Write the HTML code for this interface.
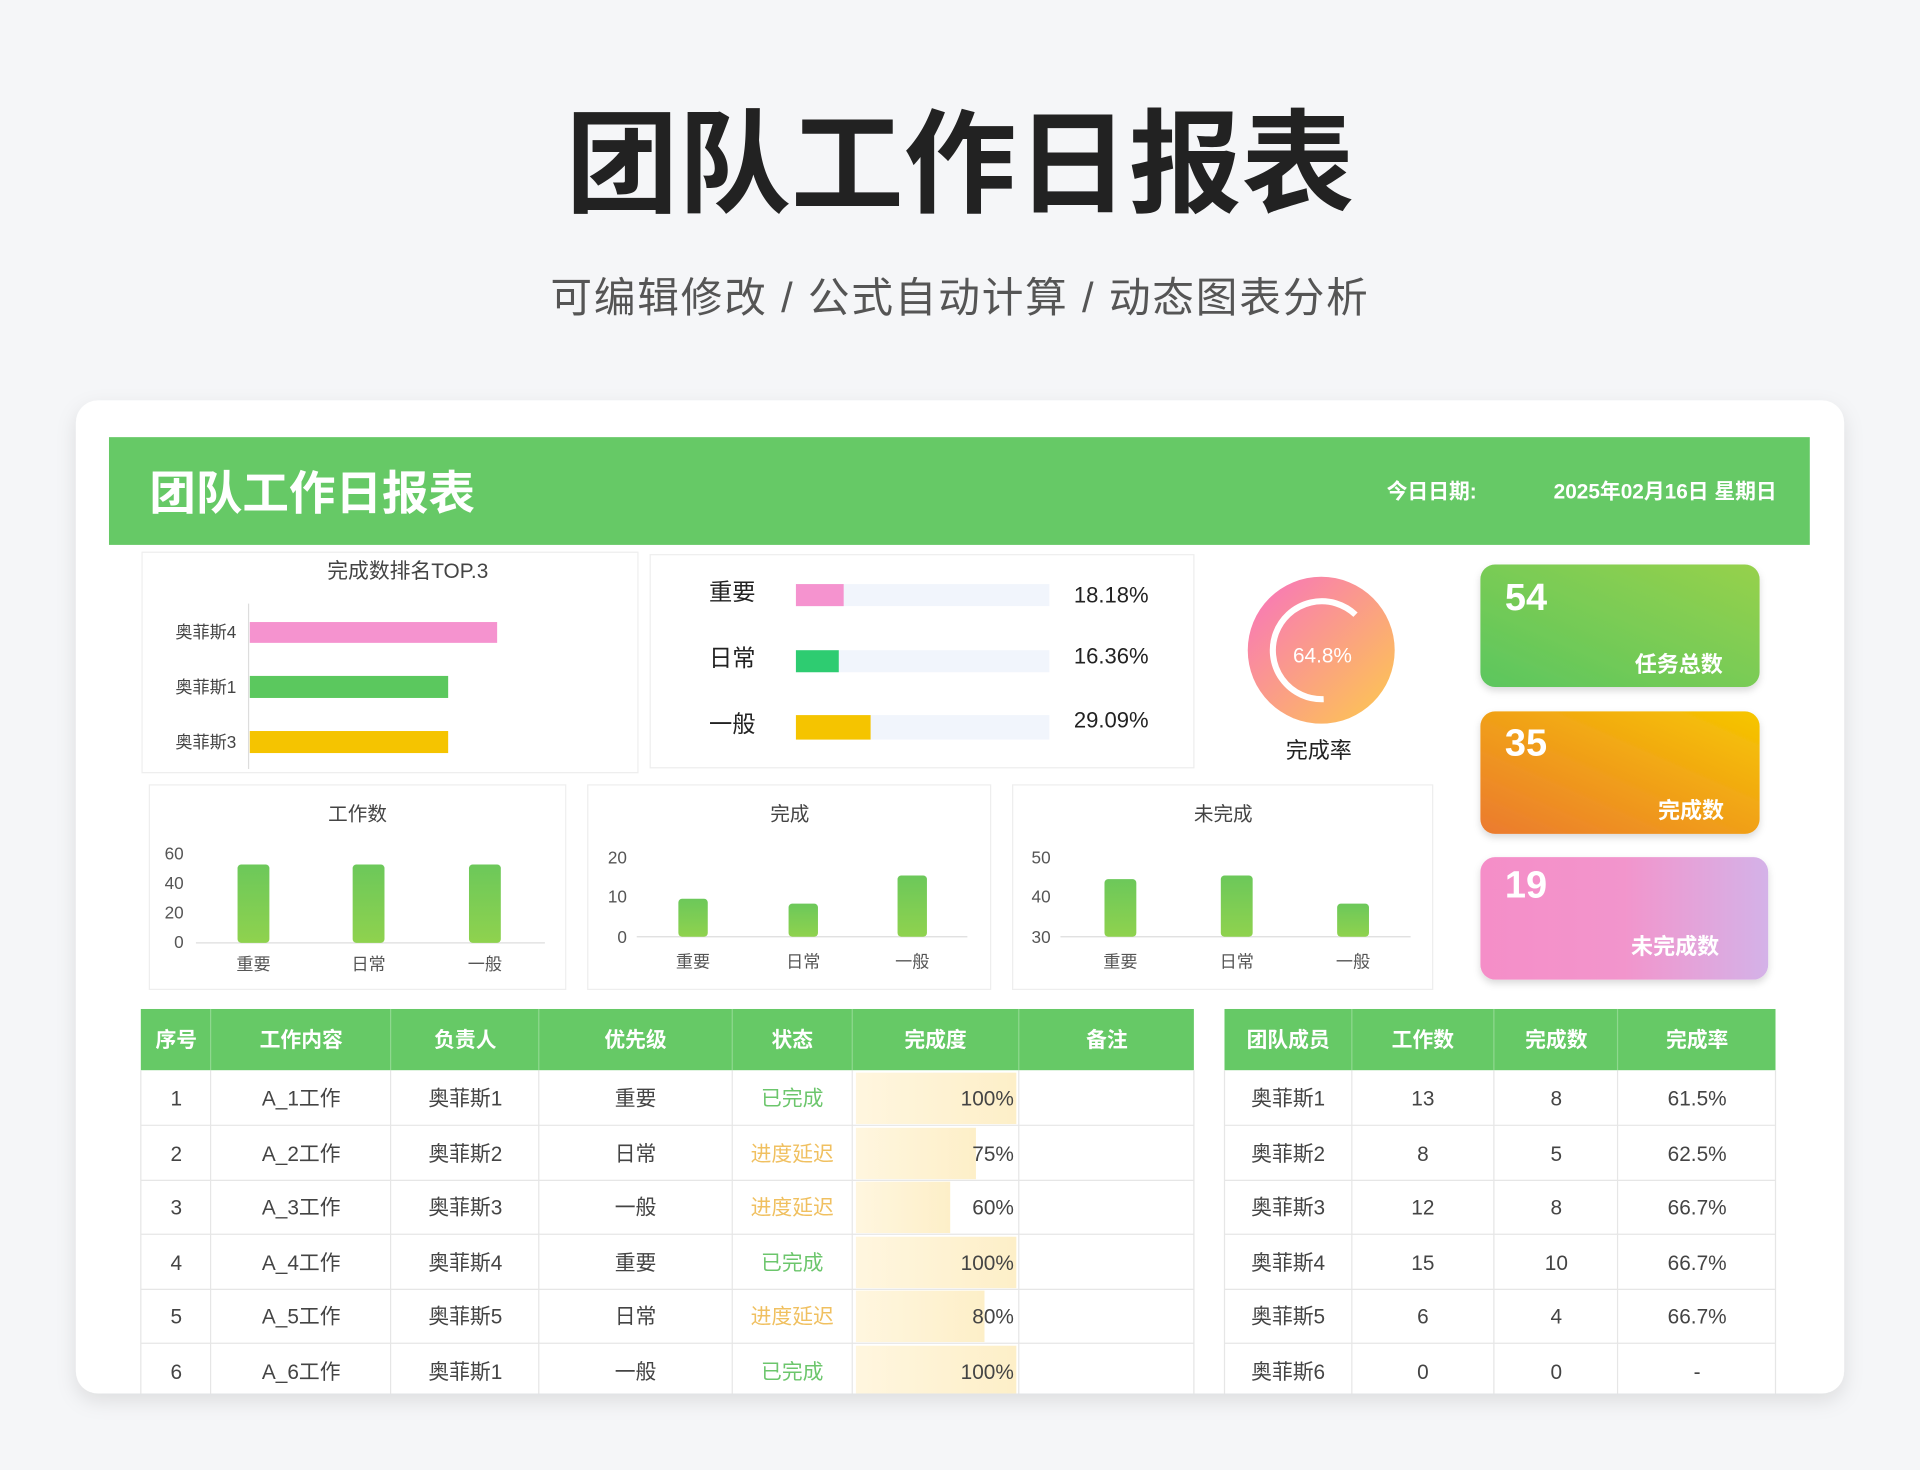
<!DOCTYPE html>
<html><head><meta charset="utf-8"><style>
html,body{margin:0;padding:0;background:#f5f6f8;}
svg{display:block;font-family:"Liberation Sans","Noto Sans CJK SC",sans-serif;}
</style></head><body>
<svg width="1920" height="1470" viewBox="0 0 1568 1200.5" xmlns="http://www.w3.org/2000/svg">
<defs>
<filter id="sh" x="-5%" y="-5%" width="110%" height="115%"><feDropShadow dx="0" dy="6" stdDeviation="8" flood-color="#000" flood-opacity="0.10"/></filter>
<filter id="sh2" x="-10%" y="-10%" width="120%" height="130%"><feDropShadow dx="0" dy="3" stdDeviation="3" flood-color="#000" flood-opacity="0.15"/></filter>
<linearGradient id="gk1" x1="0" y1="1" x2="1" y2="0"><stop offset="0" stop-color="#5cc65e"/><stop offset="1" stop-color="#96d14c"/></linearGradient>
<linearGradient id="gk2" x1="0" y1="1" x2="1" y2="0"><stop offset="0" stop-color="#eb7a30"/><stop offset="1" stop-color="#f6c600"/></linearGradient>
<linearGradient id="gk3" x1="0" y1="0" x2="1" y2="0"><stop offset="0" stop-color="#f58ec8"/><stop offset="0.5" stop-color="#f295cc"/><stop offset="1" stop-color="#d4b2e8"/></linearGradient>
<linearGradient id="gd" x1="0" y1="0" x2="1" y2="1"><stop offset="0" stop-color="#f872c0"/><stop offset="1" stop-color="#fdca4c"/></linearGradient>
<linearGradient id="gb" x1="0" y1="0" x2="0" y2="1"><stop offset="0" stop-color="#6cc85a"/><stop offset="1" stop-color="#8fd24e"/></linearGradient>
<linearGradient id="gp" x1="0" y1="0" x2="1" y2="0"><stop offset="0" stop-color="#fff6df"/><stop offset="1" stop-color="#fdefc8"/></linearGradient>
</defs>
<rect width="1568" height="1201" fill="#f5f6f8"/>
<text x="784" y="166" text-anchor="middle" font-size="92" font-weight="bold" fill="#222">团队工作日报表</text>
<text x="784" y="255" text-anchor="middle" font-size="34" fill="#555" letter-spacing="1.5">可编辑修改 /  公式自动计算  /  动态图表分析</text>

<rect x="62" y="327" width="1444" height="811" rx="18" fill="#fff" filter="url(#sh)"/>
<rect x="89" y="357" width="1389" height="88" fill="#66c966"/>
<text x="122" y="416" font-size="38" font-weight="bold" fill="#fff">团队工作日报表</text>
<text x="1206" y="407" text-anchor="end" font-size="17" font-weight="bold" fill="#fff">今日日期:</text>
<text x="1451" y="407" text-anchor="end" font-size="17" font-weight="bold" fill="#fff">2025年02月16日   星期日</text>

<rect x="116" y="451" width="405" height="180" fill="#fff" stroke="#eee"/>
<text x="333" y="472" text-anchor="middle" font-size="17" fill="#444">完成数排名TOP.3</text>
<line x1="203" y1="493" x2="203" y2="628" stroke="#ddd"/>
<rect x="204" y="508" width="202" height="17" fill="#f593cf"/>
<rect x="204" y="552" width="162" height="18" fill="#5bc85e"/>
<rect x="204" y="597" width="162" height="18" fill="#f5c400"/>
<g font-size="14" fill="#444" text-anchor="end"><text x="193" y="521">奥菲斯4</text><text x="193" y="566">奥菲斯1</text><text x="193" y="611">奥菲斯3</text></g>

<rect x="531" y="453" width="444" height="174" fill="#fff" stroke="#eee"/>
<g font-size="19" fill="#222"><text x="579" y="490">重要</text><text x="579" y="544">日常</text><text x="579" y="598">一般</text></g>
<rect x="650" y="477" width="207" height="18" fill="#f1f5fc"/><rect x="650" y="477" width="39" height="18" fill="#f593cf"/>
<rect x="650" y="531" width="207" height="18" fill="#f1f5fc"/><rect x="650" y="531" width="35" height="18" fill="#2ecc71"/>
<rect x="650" y="584" width="207" height="20" fill="#f1f5fc"/><rect x="650" y="584" width="61" height="20" fill="#f5c400"/>
<g font-size="18" fill="#222"><text x="877" y="492">18.18%</text><text x="877" y="542">16.36%</text><text x="877" y="594">29.09%</text></g>

<circle cx="1079" cy="531" r="60" fill="url(#gd)"/>
<path d="M1107 502 A40 40 0 1 0 1081 571" fill="none" stroke="#fff" stroke-width="5"/>
<text x="1080" y="541" text-anchor="middle" font-size="17" fill="#fff">64.8%</text>
<text x="1077" y="619" text-anchor="middle" font-size="18" fill="#222">完成率</text>

<rect x="1209" y="461" width="228" height="100" rx="12" fill="url(#gk1)" filter="url(#sh2)"/>
<text x="1229" y="498" font-size="31" font-weight="bold" fill="#fff">54</text>
<text x="1407" y="549" text-anchor="end" font-size="18" font-weight="bold" fill="#fff">任务总数</text>
<rect x="1209" y="581" width="228" height="100" rx="12" fill="url(#gk2)" filter="url(#sh2)"/>
<text x="1229" y="617" font-size="31" font-weight="bold" fill="#fff">35</text>
<text x="1408" y="668" text-anchor="end" font-size="18" font-weight="bold" fill="#fff">完成数</text>
<rect x="1209" y="700" width="235" height="100" rx="12" fill="url(#gk3)" filter="url(#sh2)"/>
<text x="1229" y="733" font-size="31" font-weight="bold" fill="#fff">19</text>
<text x="1404" y="779" text-anchor="end" font-size="18" font-weight="bold" fill="#fff">未完成数</text>

<g font-size="14" fill="#555">
<rect x="122" y="641" width="340" height="167" fill="#fff" stroke="#eee"/>
<text x="292" y="670" text-anchor="middle" font-size="16" fill="#444">工作数</text>
<text x="150" y="702" text-anchor="end">60</text><text x="150" y="726" text-anchor="end">40</text><text x="150" y="750" text-anchor="end">20</text><text x="150" y="774" text-anchor="end">0</text>
<line x1="160" y1="770" x2="445" y2="770" stroke="#ddd"/>
<rect x="194" y="706" width="26" height="64" fill="url(#gb)" rx="3"/><rect x="288" y="706" width="26" height="64" fill="url(#gb)" rx="3"/><rect x="383" y="706" width="26" height="64" fill="url(#gb)" rx="3"/>
<text x="207" y="792" text-anchor="middle">重要</text><text x="301" y="792" text-anchor="middle">日常</text><text x="396" y="792" text-anchor="middle">一般</text>

<rect x="480" y="641" width="329" height="167" fill="#fff" stroke="#eee"/>
<text x="645" y="670" text-anchor="middle" font-size="16" fill="#444">完成</text>
<text x="512" y="705" text-anchor="end">20</text><text x="512" y="737" text-anchor="end">10</text><text x="512" y="770" text-anchor="end">0</text>
<line x1="520" y1="765" x2="790" y2="765" stroke="#ddd"/>
<rect x="554" y="734" width="24" height="31" fill="url(#gb)" rx="3"/><rect x="644" y="738" width="24" height="27" fill="url(#gb)" rx="3"/><rect x="733" y="715" width="24" height="50" fill="url(#gb)" rx="3"/>
<text x="566" y="790" text-anchor="middle">重要</text><text x="656" y="790" text-anchor="middle">日常</text><text x="745" y="790" text-anchor="middle">一般</text>

<rect x="827" y="641" width="343" height="167" fill="#fff" stroke="#eee"/>
<text x="999" y="670" text-anchor="middle" font-size="16" fill="#444">未完成</text>
<text x="858" y="705" text-anchor="end">50</text><text x="858" y="737" text-anchor="end">40</text><text x="858" y="770" text-anchor="end">30</text>
<line x1="866" y1="765" x2="1152" y2="765" stroke="#ddd"/>
<rect x="902" y="718" width="26" height="47" fill="url(#gb)" rx="3"/><rect x="997" y="715" width="26" height="50" fill="url(#gb)" rx="3"/><rect x="1092" y="738" width="26" height="27" fill="url(#gb)" rx="3"/>
<text x="915" y="790" text-anchor="middle">重要</text><text x="1010" y="790" text-anchor="middle">日常</text><text x="1105" y="790" text-anchor="middle">一般</text>
</g>

<rect x="115" y="824" width="860" height="50" fill="#66c966"/>
<g stroke="#8fd88f"><line x1="172" y1="824" x2="172" y2="874"/><line x1="319" y1="824" x2="319" y2="874"/><line x1="440" y1="824" x2="440" y2="874"/><line x1="598" y1="824" x2="598" y2="874"/><line x1="696" y1="824" x2="696" y2="874"/><line x1="832" y1="824" x2="832" y2="874"/></g>
<g font-size="17" font-weight="bold" fill="#fff" text-anchor="middle">
<text x="144" y="855">序号</text><text x="246" y="855">工作内容</text><text x="380" y="855">负责人</text><text x="519" y="855">优先级</text><text x="647" y="855">状态</text><text x="764" y="855">完成度</text><text x="904" y="855">备注</text></g>
<rect x="699" y="876" width="131" height="42" fill="url(#gp)"/>
<rect x="699" y="921" width="98" height="42" fill="url(#gp)"/>
<rect x="699" y="965" width="77" height="42" fill="url(#gp)"/>
<rect x="699" y="1010" width="131" height="42" fill="url(#gp)"/>
<rect x="699" y="1054" width="105" height="42" fill="url(#gp)"/>
<rect x="699" y="1099" width="131" height="39" fill="url(#gp)"/>
<g stroke="#e6e6e6"><line x1="115" y1="919" x2="975" y2="919"/><line x1="115" y1="964" x2="975" y2="964"/><line x1="115" y1="1008" x2="975" y2="1008"/><line x1="115" y1="1053" x2="975" y2="1053"/><line x1="115" y1="1097" x2="975" y2="1097"/>
<line x1="115" y1="874" x2="115" y2="1138"/><line x1="172" y1="874" x2="172" y2="1138"/><line x1="319" y1="874" x2="319" y2="1138"/><line x1="440" y1="874" x2="440" y2="1138"/><line x1="598" y1="874" x2="598" y2="1138"/><line x1="696" y1="874" x2="696" y2="1138"/><line x1="832" y1="874" x2="832" y2="1138"/><line x1="975" y1="874" x2="975" y2="1138"/></g>
<g font-size="17" fill="#444" text-anchor="middle">
<text x="144" y="903">1</text><text x="246" y="903">A_1工作</text><text x="380" y="903">奥菲斯1</text><text x="519" y="903">重要</text><text x="647" y="903" fill="#6cc66c">已完成</text><text x="828" y="903" text-anchor="end">100%</text>
<text x="144" y="948">2</text><text x="246" y="948">A_2工作</text><text x="380" y="948">奥菲斯2</text><text x="519" y="948">日常</text><text x="647" y="948" fill="#f0c060">进度延迟</text><text x="828" y="948" text-anchor="end">75%</text>
<text x="144" y="992">3</text><text x="246" y="992">A_3工作</text><text x="380" y="992">奥菲斯3</text><text x="519" y="992">一般</text><text x="647" y="992" fill="#f0c060">进度延迟</text><text x="828" y="992" text-anchor="end">60%</text>
<text x="144" y="1037">4</text><text x="246" y="1037">A_4工作</text><text x="380" y="1037">奥菲斯4</text><text x="519" y="1037">重要</text><text x="647" y="1037" fill="#6cc66c">已完成</text><text x="828" y="1037" text-anchor="end">100%</text>
<text x="144" y="1081">5</text><text x="246" y="1081">A_5工作</text><text x="380" y="1081">奥菲斯5</text><text x="519" y="1081">日常</text><text x="647" y="1081" fill="#f0c060">进度延迟</text><text x="828" y="1081" text-anchor="end">80%</text>
<text x="144" y="1126">6</text><text x="246" y="1126">A_6工作</text><text x="380" y="1126">奥菲斯1</text><text x="519" y="1126">一般</text><text x="647" y="1126" fill="#6cc66c">已完成</text><text x="828" y="1126" text-anchor="end">100%</text>
</g>

<rect x="1000" y="824" width="450" height="50" fill="#66c966"/>
<g stroke="#8fd88f"><line x1="1104" y1="824" x2="1104" y2="874"/><line x1="1220" y1="824" x2="1220" y2="874"/><line x1="1321" y1="824" x2="1321" y2="874"/></g>
<g font-size="17" font-weight="bold" fill="#fff" text-anchor="middle">
<text x="1052" y="855">团队成员</text><text x="1162" y="855">工作数</text><text x="1271" y="855">完成数</text><text x="1386" y="855">完成率</text></g>
<g stroke="#e6e6e6"><line x1="1000" y1="919" x2="1450" y2="919"/><line x1="1000" y1="964" x2="1450" y2="964"/><line x1="1000" y1="1008" x2="1450" y2="1008"/><line x1="1000" y1="1053" x2="1450" y2="1053"/><line x1="1000" y1="1097" x2="1450" y2="1097"/>
<line x1="1000" y1="874" x2="1000" y2="1138"/><line x1="1104" y1="874" x2="1104" y2="1138"/><line x1="1220" y1="874" x2="1220" y2="1138"/><line x1="1321" y1="874" x2="1321" y2="1138"/><line x1="1450" y1="874" x2="1450" y2="1138"/></g>
<g font-size="17" fill="#444" text-anchor="middle">
<text x="1052" y="903">奥菲斯1</text><text x="1162" y="903">13</text><text x="1271" y="903">8</text><text x="1386" y="903">61.5%</text>
<text x="1052" y="948">奥菲斯2</text><text x="1162" y="948">8</text><text x="1271" y="948">5</text><text x="1386" y="948">62.5%</text>
<text x="1052" y="992">奥菲斯3</text><text x="1162" y="992">12</text><text x="1271" y="992">8</text><text x="1386" y="992">66.7%</text>
<text x="1052" y="1037">奥菲斯4</text><text x="1162" y="1037">15</text><text x="1271" y="1037">10</text><text x="1386" y="1037">66.7%</text>
<text x="1052" y="1081">奥菲斯5</text><text x="1162" y="1081">6</text><text x="1271" y="1081">4</text><text x="1386" y="1081">66.7%</text>
<text x="1052" y="1126">奥菲斯6</text><text x="1162" y="1126">0</text><text x="1271" y="1126">0</text><text x="1386" y="1126">-</text>
</g>
</svg>
</body></html>
